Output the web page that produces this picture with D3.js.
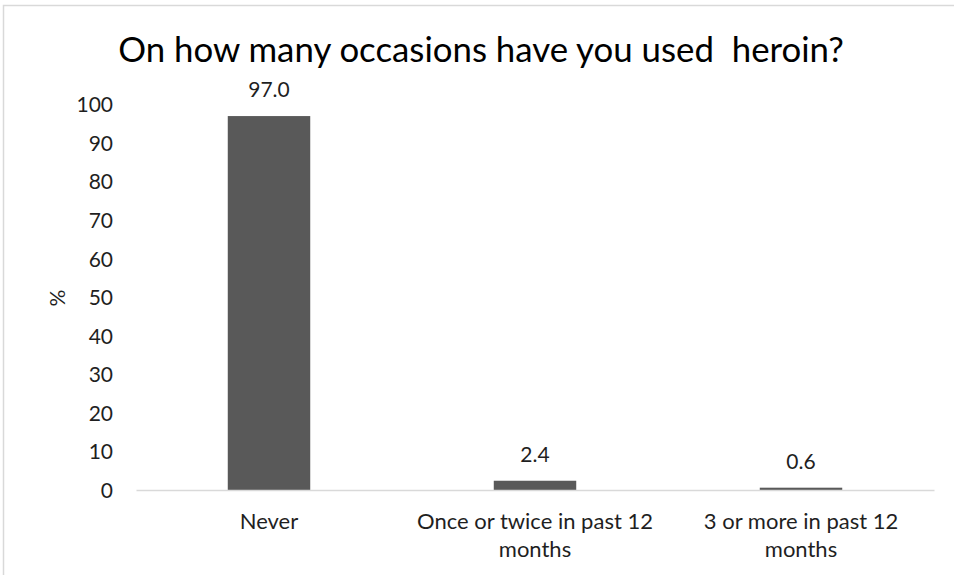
<!DOCTYPE html>
<html>
<head>
<meta charset="utf-8">
<script src="https://cdn.jsdelivr.net/npm/d3@7"></script>
<style>
  html, body { margin: 0; padding: 0; background: #fff; }
  svg { display: block; }
  text { font-family: Lato, "Open Sans", sans-serif; fill: #1f1f1f; }
</style>
</head>
<body>
<svg id="chart" width="954" height="575"></svg>
<script>
// Survey responses (%)
const categories = ["Never", "Once or twice in past 12 months", "3 or more in past 12 months"];
const values = [97.0, 2.4, 0.6];
const yTicks = [0, 10, 20, 30, 40, 50, 60, 70, 80, 90, 100];
const title = "On how many occasions have you used\u00a0 heroin?";

const svg = d3.select("#chart");
const W = 954, H = 575;

// Chart area frame
svg.append("rect")
  .attr("x", 3.5).attr("y", 5.5)
  .attr("width", W + 10).attr("height", H + 10)
  .attr("fill", "none").attr("stroke", "#d9d9d9").attr("stroke-width", 1.5);

const plot = { left: 136, right: 934, top: 104.5, bottom: 490 };

const x = d3.scaleBand()
  .domain(categories)
  .range([plot.left, plot.right])
  .paddingInner(0.69).paddingOuter(0.345);

const y = d3.scaleLinear()
  .domain([0, 100])
  .range([plot.bottom, plot.top]);

// Title
svg.append("text")
  .attr("x", 481).attr("y", 62)
  .attr("text-anchor", "middle")
  .style("font-size", "34.8px")
  .style("fill", "#000")
  .text(title);

// Y axis tick labels (no axis line)
const yAxis = d3.axisLeft(y).tickValues(yTicks).tickSize(0).tickPadding(0).tickFormat(d3.format("d"));
const gy = svg.append("g").attr("transform", `translate(113,0)`).call(yAxis);
gy.select(".domain").remove();
gy.selectAll("text")
  .style("font-size", "21px")
  .style("font-family", "Lato, 'Open Sans', sans-serif")
  .attr("fill", "#1f1f1f")
  .attr("dy", "0.35em");

// Y axis title
svg.append("text")
  .attr("transform", "translate(58,298) rotate(-90)")
  .attr("text-anchor", "middle")
  .attr("dy", "0.35em")
  .style("font-size", "21px")
  .text("%");

// Bars
svg.append("g").selectAll("rect")
  .data(values)
  .join("rect")
  .attr("x", (d, i) => x(categories[i]))
  .attr("width", x.bandwidth())
  .attr("y", d => y(d))
  .attr("height", d => y(0) - y(d))
  .attr("fill", "#595959");

// Baseline
const xAxis = d3.axisBottom(x).tickSize(0).tickPadding(0).tickFormat("");
const gx = svg.append("g").attr("transform", `translate(0,${plot.bottom})`).call(xAxis);
gx.select(".domain").attr("stroke", "#d9d9d9").attr("stroke-width", 1.5);

// Category labels, wrapped to two lines
const wrapped = {
  "Never": ["Never"],
  "Once or twice in past 12 months": ["Once or twice in past 12", "months"],
  "3 or more in past 12 months": ["3 or more in past 12", "months"]
};
categories.forEach(c => {
  const t = svg.append("text")
    .attr("text-anchor", "middle")
    .style("font-size", "22px");
  wrapped[c].forEach((line, k) => {
    t.append("tspan")
      .attr("x", x(c) + x.bandwidth() / 2)
      .attr("y", 529 + k * 28)
      .text(line);
  });
});

// Value labels
svg.append("g").selectAll("text")
  .data(values)
  .join("text")
  .attr("x", (d, i) => x(categories[i]) + x.bandwidth() / 2)
  .attr("y", d => y(d) - 19)
  .attr("text-anchor", "middle")
  .style("font-size", "21px")
  .text(d => d.toFixed(1));
</script>
</body>
</html>
